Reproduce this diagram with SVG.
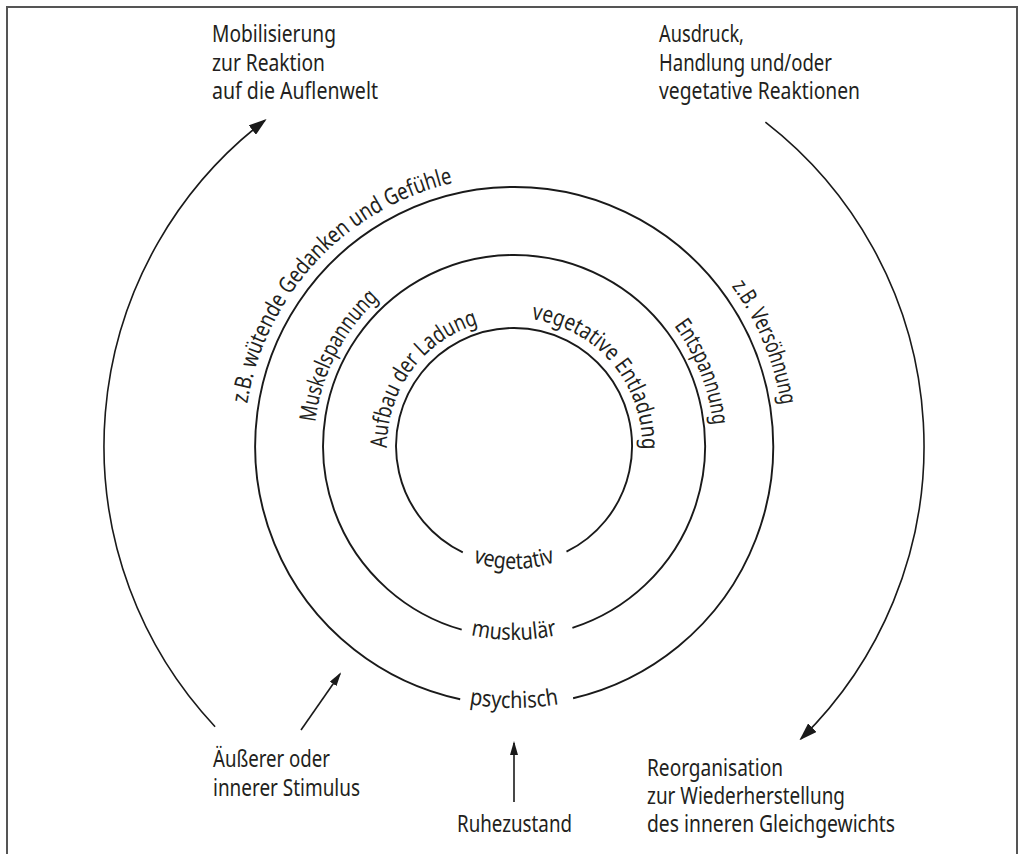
<svg xmlns="http://www.w3.org/2000/svg" xmlns:xlink="http://www.w3.org/1999/xlink" width="1024" height="854" viewBox="0 0 1024 854">
<style>
  .t { font-family: "Noto Sans", "Open Sans", "Liberation Sans", sans-serif; font-size: 23px; fill: #231f20; }
  .ring { fill: none; stroke: #1a1a1a; stroke-width: 1.9; }
  .conn { fill: none; stroke: #1a1a1a; stroke-width: 1.6; }
  .frame { fill: none; stroke: #555; stroke-width: 2; }
</style>
<defs>
  <marker id="bigArrow" markerUnits="userSpaceOnUse" markerWidth="18" markerHeight="12" refX="16" refY="6" orient="auto">
    <path d="M0,0 L18,6 L0,12 Z" fill="#1a1a1a"/>
  </marker>
  <marker id="smallArrow" markerUnits="userSpaceOnUse" markerWidth="14" markerHeight="8" refX="12" refY="4" orient="auto">
    <path d="M0,0 L14,4 L0,8 Z" fill="#1a1a1a"/>
  </marker>
  <path id="pOutL" d="M247.3,403.8 A270,270 0 0 1 490.5,177"/>
  <path id="pMidL" d="M315.4,422.3 A200,200 0 0 1 414,272.8"/>
  <path id="pInL" d="M387,448 A127,127 0 0 1 502.9,319.5"/>
  <path id="pInR" d="M531.6,319.2 A128,128 0 0 1 640.1,468.2"/>
  <path id="pMidR" d="M673.9,325.9 A200,200 0 0 1 714,446"/>
  <path id="pOutR" d="M731.6,286.2 A270,270 0 0 1 784,446"/>
  <path id="pOutB" d="M345.6,646.7 A262,262 0 0 0 682.4,646.7"/>
  <path id="pMidB" d="M389.3,594.6 A194,194 0 0 0 638.7,594.6"/>
  <path id="pInB" d="M434.9,540.2 A123,123 0 0 0 593.1,540.2"/>
</defs>

<rect x="0" y="0" width="1024" height="854" fill="#ffffff"/>
<path class="frame" d="M7,854 V7 H1017 V854"/>

<g id="ring-psychisch">
  <path class="ring" d="M460.2,699.3 A259,259 0 1 1 573.1,698.2"/>
  <text class="t"><textPath xlink:href="#pOutB" href="#pOutB" startOffset="50%" text-anchor="middle" textLength="90" lengthAdjust="spacingAndGlyphs">psychisch</textPath></text>
  <text class="t"><textPath xlink:href="#pOutL" href="#pOutL" textLength="320" lengthAdjust="spacingAndGlyphs">z.B. wütende Gedanken und Gefühle</textPath></text>
  <text class="t"><textPath xlink:href="#pOutR" href="#pOutR" textLength="130" lengthAdjust="spacingAndGlyphs">z.B. Versöhnung</textPath></text>
</g>

<g id="ring-muskulaer">
  <path class="ring" d="M461.7,629.7 A191,191 0 1 1 572.4,627.9"/>
  <text class="t"><textPath xlink:href="#pMidB" href="#pMidB" startOffset="50%" text-anchor="middle" textLength="87" lengthAdjust="spacingAndGlyphs">muskulär</textPath></text>
  <text class="t"><textPath xlink:href="#pMidL" href="#pMidL" textLength="142" lengthAdjust="spacingAndGlyphs">Muskelspannung</textPath></text>
  <text class="t"><textPath xlink:href="#pMidR" href="#pMidR" textLength="108" lengthAdjust="spacingAndGlyphs">Entspannung</textPath></text>
</g>

<g id="ring-vegetativ">
  <path class="ring" d="M462.8,552.3 A118,118 0 1 1 566.5,551.7"/>
  <text class="t"><textPath xlink:href="#pInB" href="#pInB" startOffset="50%" text-anchor="middle" textLength="84" lengthAdjust="spacingAndGlyphs">vegetativ</textPath></text>
  <text class="t"><textPath xlink:href="#pInL" href="#pInL" textLength="165" lengthAdjust="spacingAndGlyphs">Aufbau der Ladung</textPath></text>
  <text class="t"><textPath xlink:href="#pInR" href="#pInR" textLength="187" lengthAdjust="spacingAndGlyphs">vegetative Entladung</textPath></text>
</g>

<g id="label-mobilisierung">
  <text class="t" x="212" y="42" textLength="124" lengthAdjust="spacingAndGlyphs">Mobilisierung</text>
  <text class="t" x="212" y="71" textLength="113" lengthAdjust="spacingAndGlyphs">zur Reaktion</text>
  <text class="t" x="212" y="99" textLength="166" lengthAdjust="spacingAndGlyphs">auf die Auflenwelt</text>
</g>

<g id="label-ausdruck">
  <text class="t" x="659" y="42" textLength="85" lengthAdjust="spacingAndGlyphs">Ausdruck,</text>
  <text class="t" x="659" y="71" textLength="173" lengthAdjust="spacingAndGlyphs">Handlung und/oder</text>
  <text class="t" x="659" y="99" textLength="201" lengthAdjust="spacingAndGlyphs">vegetative Reaktionen</text>
</g>

<g id="label-stimulus">
  <text class="t" x="213" y="767" textLength="117" lengthAdjust="spacingAndGlyphs">Äußerer oder</text>
  <text class="t" x="213" y="796" textLength="147" lengthAdjust="spacingAndGlyphs">innerer Stimulus</text>
</g>

<g id="label-ruhezustand">
  <text class="t" x="457" y="832" textLength="115" lengthAdjust="spacingAndGlyphs">Ruhezustand</text>
</g>

<g id="label-reorganisation">
  <text class="t" x="647" y="776" textLength="136" lengthAdjust="spacingAndGlyphs">Reorganisation</text>
  <text class="t" x="647" y="804" textLength="198" lengthAdjust="spacingAndGlyphs">zur Wiederherstellung</text>
  <text class="t" x="647" y="832" textLength="248" lengthAdjust="spacingAndGlyphs">des inneren Gleichgewichts</text>
</g>

<g id="connectors">
  <path class="conn" d="M215.1,726.7 A410,410 0 0 1 265,120.3" marker-end="url(#bigArrow)"/>
  <path class="conn" d="M765.4,122.1 A410,410 0 0 1 800.9,738.9" marker-end="url(#bigArrow)"/>
  <path class="conn" d="M301,730 L340,674" marker-end="url(#smallArrow)"/>
  <path class="conn" d="M514,802 L514,743" marker-end="url(#smallArrow)"/>
</g>
</svg>
